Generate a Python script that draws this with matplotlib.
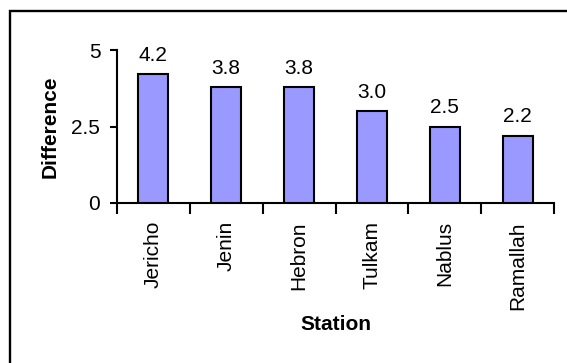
import matplotlib
matplotlib.use("Agg")
import matplotlib.pyplot as plt
from matplotlib.patches import Rectangle
import numpy as np

station_labels = ["Jericho", "Jenin", "Hebron", "Tulkam", "Nablus", "Ramallah"]
difference = [4.2, 3.8, 3.8, 3.0, 2.5, 2.2]
y_ticks = [0, 2.5, 5]
y_tick_labels = ["0", "2.5", "5"]

plt.rcParams["font.family"] = ["Liberation Sans", "DejaVu Sans"]
FS = 15

W, H = 567, 363
fig = plt.figure(figsize=(W / 100, H / 100), dpi=100)
ax = fig.add_axes([117 / W, 1 - 203 / H, (554 - 117) / W, (203 - 50) / H])

x = np.arange(len(difference))
ax.bar(x, difference, width=0.41, color="#9999FF",
       edgecolor="black", linewidth=1.5, zorder=3)

for xi, v in zip(x, difference):
    ax.annotate(f"{v:.1f}", (xi, v), xytext=(0, 9.5), textcoords="offset points",
                ha="center", va="baseline", fontsize=FS)

ax.set_xlim(-0.5, len(difference) - 0.5)
ax.set_ylim(0, 5)

# category boundaries carry the tick marks, centres carry the labels
ax.set_xticks(np.arange(len(difference) + 1) - 0.5)
ax.set_xticklabels([])
ax.set_xticks(x, minor=True)
ax.set_xticklabels(station_labels, minor=True, rotation=90, fontsize=FS,
                   va="top", ha="center")
ax.tick_params(axis="x", which="major", direction="out", length=8, width=1.5)
ax.tick_params(axis="x", which="minor", length=0, pad=13)

ax.set_yticks(y_ticks)
ax.set_yticklabels(y_tick_labels, fontsize=FS)
ax.tick_params(axis="y", direction="out", length=5, width=1.5, pad=7)

for side in ("top", "right"):
    ax.spines[side].set_visible(False)
for side in ("left", "bottom"):
    ax.spines[side].set_linewidth(1.5)

ax.set_ylabel("Difference", fontsize=FS, fontweight="bold", va="center")
ax.yaxis.set_label_coords((50 - 117) / (554 - 117), 0.5)
ax.set_xlabel("Station", fontsize=FS, fontweight="bold", va="center")
ax.xaxis.set_label_coords(0.5, (203 - 325) / (203 - 50))

# outer chart frame
fig.patches.append(Rectangle((10 / W, -0.2), 1.5, 1 - 11 / H + 0.2,
                             transform=fig.transFigure, fill=False,
                             edgecolor="black", linewidth=1.7))

# chart title sitting above the visible area
fig.text(0.555, 1 + 4.6 / H, "Temperature Difference Index by Temp. Range",
         ha="center", va="baseline", fontsize=16, fontweight="bold")

fig.savefig("out.png", dpi=100, facecolor="white")
